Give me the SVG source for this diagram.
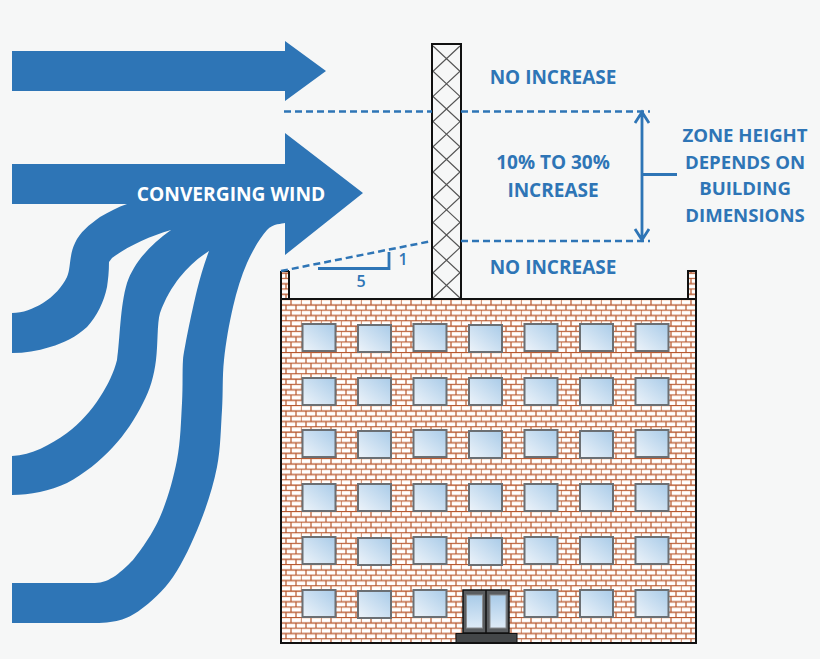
<svg xmlns="http://www.w3.org/2000/svg" width="820" height="659" viewBox="0 0 820 659">
<style>
.lbl{font-family:"Open Sans","Liberation Sans",sans-serif;font-weight:700;font-size:19px;fill:#2e75b6;text-anchor:middle}
.r{font-size:18.600px}
.n{font-size:16px;font-weight:600}
.wind{fill:#2e75b6}
.dash{fill:none;stroke:#2e75b6;stroke-width:2.500;stroke-dasharray:7 4}
.dim{fill:none;stroke:#2e75b6;stroke-width:2.800}
.win{fill:url(#glass);stroke:#6b6f73;stroke-width:2}
.edge{stroke:#111;stroke-width:2}
</style>
<defs>
<linearGradient id="glass" x1="1" y1="0" x2="0" y2="1"><stop offset="0" stop-color="#a9cbe8"/><stop offset="1" stop-color="#eef4fa"/></linearGradient>
<linearGradient id="glass2" x1="0" y1="0" x2="0" y2="1"><stop offset="0" stop-color="#a9cbe8"/><stop offset="1" stop-color="#deebf7"/></linearGradient>
<pattern id="brick" width="20" height="10.600" patternUnits="userSpaceOnUse" x="281" y="300">
<rect width="20" height="10.600" fill="#fbe6d8"/>
<rect x=".8" y="1" width="8.400" height="3.200" fill="#fff"/><rect x="10.800" y="1" width="8.400" height="3.200" fill="#fff"/>
<rect x="-4.200" y="6.300" width="8.400" height="3.200" fill="#fff"/><rect x="5.800" y="6.300" width="8.400" height="3.200" fill="#fff"/><rect x="15.800" y="6.300" width="8.400" height="3.200" fill="#fff"/>
<path d="M0 5H20M0 10.300H20M0 0V5M10 0V5M5 5V10.300M15 5V10.300" stroke="#b5562e" stroke-width="1.100" fill="none"/>
</pattern>
<rect id="w" width="33" height="27" class="win"/>
</defs>
<rect width="820" height="659" fill="#f6f7f7"/>

<g id="wind-top"><path class="wind" d="M12 51H285V41L326 71L285 101V91H12Z"/></g>
<g id="wind-converging">
<path class="wind" d="M12 164H285V133L363 193L285 255V223C282 224 273.300 223.300 267 230C260.700 236.700 252.700 250.200 247 263C241.300 275.800 236.800 290.800 233 307C229.200 323.200 225.800 342.800 224 360C222.200 377.200 223.200 392.200 222 410C220.800 427.800 220.700 448.200 217 467C213.300 485.800 207.300 504.700 200 523C192.700 541.300 183 562.500 173 577C163 591.500 150.500 602.300 140 610C129.500 617.700 118 623 95 623H12V583H95C110 583 122 571 133 560C141.300 549.500 152.700 533.700 160 517C167.300 500.300 173.300 479 177 460C180.700 441 181 419.700 182 403C183 386 182.200 371 183 360C184.200 349 191 315 197 290C200 278 204 264 209 251C198 258 188 267 180 277C172 287 165 299 160 313C157 323 158 345 156 360C154 376 150 390 143 403C135 419 125 434 113 447C100 461 84 474 67 483C50 491 30 495 12 495V456C32 455 50 445 67 433C80 423 91 411 100 397C108 385 114 372 117 360C120 340 120 306 127 283C134 262 152 243 171 230C150 236 128 246 112 258L109 262C109 272 108 280 107 287C104 302 97 316 87 327C76 337 64 343 50 347C37 351 25 353 12 353V313C23 313 33 309 43 303C54 296 62 287 67 277C71 268 69 255 75 243C80 232 89 225 100 217C109 212 118 207 127 204H12Z"/>
<text x="231" y="201" text-anchor="middle" font-family="'Open Sans','Liberation Sans',sans-serif" font-weight="700" font-size="19.200" fill="#fff">CONVERGING WIND</text>
</g>

<g id="building">
<rect x="281" y="299" width="415" height="344" fill="url(#brick)"/>
<rect x="281" y="271" width="8" height="28" fill="url(#brick)"/>
<rect x="688" y="271" width="8" height="28" fill="url(#brick)"/>
<path class="edge" fill="none" d="M281 271V643H696V271H688V299M696 299H281M289 271V299M281 271H289"/>
</g>

<g id="windows">
<use href="#w" x="302.500" y="324"/><use href="#w" x="358" y="325"/><use href="#w" x="413.500" y="324"/><use href="#w" x="469" y="325"/><use href="#w" x="524.500" y="324"/><use href="#w" x="580" y="324"/><use href="#w" x="635.500" y="324"/>
<use href="#w" x="302.500" y="378"/><use href="#w" x="358" y="378"/><use href="#w" x="413.500" y="378"/><use href="#w" x="469" y="378"/><use href="#w" x="524.500" y="378"/><use href="#w" x="580" y="378"/><use href="#w" x="635.500" y="378"/>
<use href="#w" x="302.500" y="430"/><use href="#w" x="358" y="431"/><use href="#w" x="413.500" y="430"/><use href="#w" x="469" y="431"/><use href="#w" x="524.500" y="430"/><use href="#w" x="580" y="431"/><use href="#w" x="635.500" y="430"/>
<use href="#w" x="302.500" y="484"/><use href="#w" x="358" y="484"/><use href="#w" x="413.500" y="484"/><use href="#w" x="469" y="484"/><use href="#w" x="524.500" y="484"/><use href="#w" x="580" y="484"/><use href="#w" x="635.500" y="484"/>
<use href="#w" x="302.500" y="537"/><use href="#w" x="358" y="538"/><use href="#w" x="413.500" y="537"/><use href="#w" x="469" y="538"/><use href="#w" x="524.500" y="537"/><use href="#w" x="580" y="537"/><use href="#w" x="635.500" y="537"/>
<use href="#w" x="302.500" y="590"/><use href="#w" x="358" y="591"/><use href="#w" x="413.500" y="590"/><use href="#w" x="524.500" y="590"/><use href="#w" x="580" y="590"/><use href="#w" x="635.500" y="590"/>
</g>

<g id="door">
<rect x="463" y="590" width="46" height="43" fill="#5a5d60" stroke="#111" stroke-width="1.500"/>
<path d="M486 590V633" stroke="#111" stroke-width="1.500"/>
<rect x="466.500" y="595" width="16" height="33" fill="url(#glass2)" stroke="#8a8d90"/>
<rect x="490" y="595" width="16" height="33" fill="url(#glass2)" stroke="#8a8d90"/>
<rect x="456" y="633.500" width="61" height="9" fill="#444749" stroke="#111"/>
</g>

<g id="tower">
<rect x="432" y="44" width="29" height="255" fill="#f6f7f7"/>
<path fill="none" stroke="#555" stroke-width="1.200" d="M433 46L460 71.200L433 96.400L460 121.600L433 146.800L460 172L433 197.200L460 222.400L433 247.600L460 272.800L433 298M460 46L433 71.200L460 96.400L433 121.600L460 146.800L433 172L460 197.200L433 222.400L460 247.600L433 272.800L460 298"/>
<rect x="432" y="44" width="29" height="255" fill="none" stroke="#111" stroke-width="2"/>
</g>

<g id="connectors">
<path class="dash" d="M284 111.500H432M461 111.500H650"/>
<path class="dash" d="M461 241H650"/>
<path class="dash" d="M281 271L432 241"/>
<path class="dim" d="M318 268.500H389V252"/>
<path class="dim" d="M642 112V240M642 174.500H677M635 123L642 112L649 123M635 229L642 240L649 229"/>
</g>

<g id="labels">
<text class="lbl" x="553" y="84">NO INCREASE</text>
<text class="lbl" x="553" y="169">10% TO 30%</text>
<text class="lbl" x="553" y="197">INCREASE</text>
<text class="lbl" x="553" y="274">NO INCREASE</text>
<text class="lbl r" x="745" y="142">ZONE HEIGHT</text>
<text class="lbl r" x="745" y="169">DEPENDS ON</text>
<text class="lbl r" x="745" y="195">BUILDING</text>
<text class="lbl r" x="745" y="222">DIMENSIONS</text>
<text class="lbl n" x="403" y="265">1</text>
<text class="lbl n" x="361" y="287">5</text>
</g>
</svg>
